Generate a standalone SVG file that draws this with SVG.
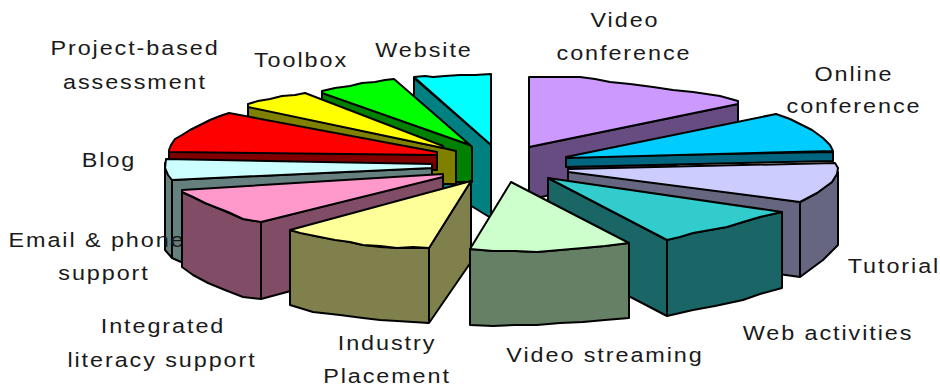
<svg xmlns="http://www.w3.org/2000/svg" width="940" height="390" viewBox="0 0 940 390">
<style>
.s{stroke:#000;stroke-width:2;stroke-linejoin:round;fill-rule:nonzero}
.l{stroke:#000;stroke-width:2;fill:none}
.t{font-family:"Liberation Sans",Arial,sans-serif;font-size:19.5px;fill:#1a1a1a;text-anchor:middle;letter-spacing:1.6px}
</style>
<rect width="940" height="390" fill="#fff"/>
<g id="website">
<polygon class="s" fill="#008080" points="414,78 491,145 491,218 473,207 414,172"/>
<polygon class="s" fill="#00FFFF" points="414,77 425,76 433,77 445,76 460,75 475,75 491,74 491,145"/>
<text class="t" transform="matrix(1.2,0,0,1,424,57)">Website</text>
</g>
<g id="toolbox">
<polygon class="s" fill="#008000" points="322,92 470,145 472,147 472,182 450,182 322,105"/>
<polygon class="s" fill="#00FF00" points="322,91 335,88 350,86 362,83 375,82 385,80 394,79 470,145 322,93"/>
<text class="t" transform="matrix(1.2,0,0,1,301,67)">Toolbox</text>
</g>
<g id="project">
<polygon class="s" fill="#808000" points="248,106 443,148 456,151 456,184 437,184 248,125"/>
<polygon class="s" fill="#FFFF00" points="248,104 258,101 270,99 282,96 295,95 305,93 443,146 443,148 248,107"/>
<text class="t" transform="matrix(1.2,0,0,1,135,55)">Project-based</text>
<text class="t" transform="matrix(1.2,0,0,1,135,89)">assessment</text>
</g>
<g id="blog">
<polygon class="s" fill="#800000" points="169,151 437,155 437,170 169,165"/>
<polygon class="s" fill="#FF0000" points="169,150 171,145 175,139 182,135 190,130 200,125 210,120 220,116 229,113 437,152 437,155 169,152"/>
<text class="t" transform="matrix(1.2,0,0,1,109,167)">Blog</text>
</g>
<g id="email">
<polygon class="s" fill="#668080" points="165,163 172,180 432,168 432,240 181,262 172,258 165,250"/>
<line class="l" x1="172" y1="180" x2="172" y2="258"/>
<polygon class="s" fill="#CCFFFF" points="166,159 432,164 432,168 172,180 168,175 165,168"/>
<text class="t" transform="matrix(1.2,0,0,1,97,247)">Email &amp; phone</text>
<text class="t" transform="matrix(1.2,0,0,1,104,280)">support</text>
</g>
<g id="literacy">
<polygon class="s" fill="#804C66" points="182,192 193,197 205,203 220,209 243,219 261,222 443,176 443,250 261,299 243,297 225,290 208,283 193,275 182,267"/>
<line class="l" x1="261" y1="222" x2="261" y2="299"/>
<polygon class="s" fill="#FF99CC" points="182,190 443,174 443,177 261,222 243,219 228,212 215,207 205,203 193,197 182,192"/>
<text class="t" transform="matrix(1.2,0,0,1,163,333)">Integrated</text>
<text class="t" transform="matrix(1.2,0,0,1,162,367)">literacy support</text>
</g>
<g id="industry">
<polygon class="s" fill="#80804C" points="290,230 320,237 345,241 363,245 380,247 397,248 429,248 471,181 471,262 429,323 397,321 380,320 363,318 340,315 313,312 290,305"/>
<line class="l" x1="429" y1="248" x2="429" y2="323"/>
<polygon class="s" fill="#FFFF99" points="290,230 300,233 320,237 335,240 350,242 363,245 380,246 397,248 413,247 429,248 471,181"/>
<text class="t" transform="matrix(1.2,0,0,1,387,350)">Industry</text>
<text class="t" transform="matrix(1.2,0,0,1,387,383)">Placement</text>
</g>
<g id="videoconf">
<polygon class="s" fill="#664C80" points="529,147 738,104 738,150 529,200"/>
<polygon class="s" fill="#CC99FF" points="529,77 555,77 580,77 595,79 610,82 630,84 653,87 673,90 693,92 720,96 738,101 738,104 529,147"/>
<text class="t" transform="matrix(1.2,0,0,1,625,27)">Video</text>
<text class="t" transform="matrix(1.2,0,0,1,624,60)">conference</text>
</g>
<g id="onlineconf">
<polygon class="s" fill="#006680" points="566,157 833,152 833,161 566,167"/>
<polygon class="s" fill="#00CCFF" points="566,157 776,114 790,119 800,124 812,130 823,138 830,145 833,151 566,158"/>
<text class="t" transform="matrix(1.2,0,0,1,854,81)">Online</text>
<text class="t" transform="matrix(1.2,0,0,1,854,113)">conference</text>
</g>
<g id="tutorial">
<polygon class="s" fill="#666680" points="568,170 800,202 817,193 832,182 838,172 838,245 823,260 800,277 568,245"/>
<line class="l" x1="800" y1="202" x2="800" y2="277"/>
<polygon class="s" fill="#CCCCFF" points="568,169 835,163 838,168 837,174 832,182 817,193 800,202 568,172"/>
<text class="t" transform="matrix(1.2,0,0,1,894,273)">Tutorial</text>
</g>
<g id="webact">
<polygon class="s" fill="#1A6666" points="548,178 667,240 693,233 727,227 760,217 782,212 782,288 760,294 743,300 715,306 693,310 667,316 548,254"/>
<line class="l" x1="667" y1="240" x2="667" y2="316"/>
<polygon class="s" fill="#33CCCC" points="548,178 782,212 760,217 743,222 727,227 710,230 693,233 680,237 667,240"/>
<text class="t" transform="matrix(1.2,0,0,1,828,340)">Web activities</text>
</g>
<g id="streaming">
<polygon class="s" fill="#668066" points="470,249 493,251 515,251 537,252 560,250 583,248 605,246 629,243 629,318 605,320 583,322 560,323 537,325 515,325 493,326 470,325"/>
<polygon class="s" fill="#CCFFCC" points="511,182 629,243 605,246 583,248 560,250 537,252 515,251 493,251 470,249"/>
<text class="t" transform="matrix(1.2,0,0,1,605,362)">Video streaming</text>
</g>
<g id="connectors"/>
</svg>
